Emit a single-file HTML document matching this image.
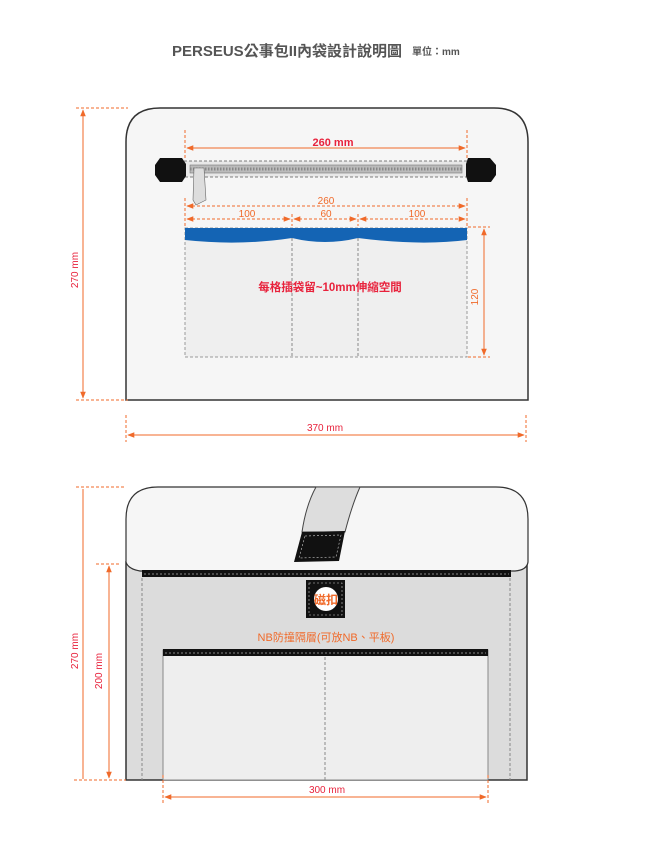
<!DOCTYPE html>
<html><head><meta charset="utf-8"><style>
html,body{margin:0;padding:0;background:#fff;}
svg{display:block;}
text{font-family:"Liberation Sans","Noto Sans CJK TC",sans-serif;}
</style></head><body>
<svg width="650" height="867" viewBox="0 0 650 867" xmlns="http://www.w3.org/2000/svg">
<defs>
<marker id="a" viewBox="0 0 10 10" refX="9" refY="5" markerWidth="7" markerHeight="7" orient="auto-start-reverse"><path d="M0,1 L10,5 L0,9 z" fill="#f06a2a"/></marker>
</defs>
<text x="172" y="56" font-size="15" font-weight="bold" fill="#555">PERSEUS公事包II內袋設計說明圖</text>
<text x="412" y="55" font-size="10" font-weight="bold" fill="#555">單位：mm</text>

<path d="M126,400 L126,142 Q126,108 160,108 L494,108 Q528,108 528,142 L528,400 Z" fill="#f6f6f6" stroke="#333" stroke-width="1.5"/>
<g stroke="#f06a2a" stroke-width="1">
<line x1="76" y1="108" x2="128" y2="108" stroke-dasharray="3,2"/>
<line x1="76" y1="400" x2="128" y2="400" stroke-dasharray="3,2"/>
<line x1="83" y1="110" x2="83" y2="398" marker-start="url(#a)" marker-end="url(#a)"/>
<line x1="126" y1="415" x2="126" y2="442" stroke-dasharray="3,2"/>
<line x1="526" y1="415" x2="526" y2="442" stroke-dasharray="3,2"/>
<line x1="128" y1="435" x2="524" y2="435" marker-start="url(#a)" marker-end="url(#a)"/>
</g>
<text transform="translate(78,270) rotate(-90)" text-anchor="middle" font-size="10" fill="#e8223c">270 mm</text>
<text x="325" y="431" text-anchor="middle" font-size="10" fill="#e8223c">370 mm</text>

<g stroke="#f06a2a" stroke-width="1">
<line x1="185" y1="130" x2="185" y2="160" stroke-dasharray="3,2"/>
<line x1="467" y1="130" x2="467" y2="160" stroke-dasharray="3,2"/>
<line x1="187" y1="148" x2="465" y2="148" marker-start="url(#a)" marker-end="url(#a)"/>
</g>
<text x="333" y="146" text-anchor="middle" font-size="11" font-weight="bold" fill="#e8223c">260 mm</text>
<rect x="184" y="161" width="284" height="16" fill="#e8e8e8" stroke="#555" stroke-width="0.8" stroke-dasharray="3,2"/>
<rect x="190" y="165" width="272" height="8" fill="#bbb" stroke="#777" stroke-width="0.6"/>
<line x1="190" y1="169" x2="462" y2="169" stroke="#888" stroke-width="3" stroke-dasharray="1.5,1.5"/>
<path d="M160,158 L182,158 L186,164 L186,176 L182,182 L160,182 L155,175 L155,165 Z" fill="#111"/>
<path d="M468,158 L490,158 L496,165 L496,175 L491,182 L468,182 L466,176 L466,164 Z" fill="#111"/>
<path d="M194,168 L204,168 L206,200 L196,205 L193,200 Z" fill="#ddd" stroke="#666" stroke-width="0.6"/>
<g stroke="#f06a2a" stroke-width="1">
<line x1="185" y1="198" x2="185" y2="226" stroke-dasharray="3,2"/>
<line x1="467" y1="198" x2="467" y2="226" stroke-dasharray="3,2"/>
<line x1="292" y1="214" x2="292" y2="226" stroke-dasharray="3,2"/>
<line x1="358" y1="214" x2="358" y2="226" stroke-dasharray="3,2"/>
<line x1="187" y1="206" x2="465" y2="206" stroke-dasharray="3,2" marker-start="url(#a)" marker-end="url(#a)"/>
<line x1="187" y1="219" x2="290" y2="219" stroke-dasharray="3,2" marker-start="url(#a)" marker-end="url(#a)"/>
<line x1="294" y1="219" x2="356" y2="219" stroke-dasharray="3,2" marker-start="url(#a)" marker-end="url(#a)"/>
<line x1="360" y1="219" x2="465" y2="219" stroke-dasharray="3,2" marker-start="url(#a)" marker-end="url(#a)"/>
</g>
<text x="326" y="204" text-anchor="middle" font-size="10" fill="#f06a2a">260</text>
<text x="247" y="217" text-anchor="middle" font-size="10" fill="#f06a2a">100</text>
<text x="326" y="217" text-anchor="middle" font-size="10" fill="#f06a2a">60</text>
<text x="417" y="217" text-anchor="middle" font-size="10" fill="#f06a2a">100</text>
<rect x="185" y="228" width="282" height="129" fill="#efefef" stroke="#999" stroke-width="1" stroke-dasharray="3,2"/>
<path d="M185,228 L467,228 L467,240 Q420,246 358,238 Q325,246 292,238 Q240,246 185,240 Z" fill="#1464b4"/>
<line x1="292" y1="238" x2="292" y2="357" stroke="#888" stroke-dasharray="3,2"/>
<line x1="358" y1="238" x2="358" y2="357" stroke="#888" stroke-dasharray="3,2"/>
<text x="330" y="291" text-anchor="middle" font-size="11.5" font-weight="bold" fill="#e8223c">每格插袋留~10mm伸縮空間</text>
<g stroke="#f06a2a" stroke-width="1">
<line x1="468" y1="227" x2="490" y2="227" stroke-dasharray="3,2"/>
<line x1="468" y1="357" x2="490" y2="357" stroke-dasharray="3,2"/>
<line x1="484" y1="229" x2="484" y2="355" marker-start="url(#a)" marker-end="url(#a)"/>
</g>
<text transform="translate(478,297) rotate(-90)" text-anchor="middle" font-size="10" fill="#f06a2a">120</text>

<rect x="126" y="562" width="401" height="218" fill="#dcdcdc" stroke="#333" stroke-width="1.5"/>
<path d="M126,562 L126,519 Q126,487 158,487 L496,487 Q528,487 528,519 L528,562 Q527,570 515,571 L140,571 Q128,569 126,562 Z" fill="#f6f6f6" stroke="#333" stroke-width="1.2"/>
<rect x="142" y="570" width="369" height="7" fill="#111"/>
<line x1="144" y1="574" x2="509" y2="574" stroke="#fff" stroke-width="0.5" stroke-dasharray="2,2"/>
<line x1="142" y1="578" x2="142" y2="780" stroke="#888" stroke-dasharray="3,2"/>
<line x1="510" y1="578" x2="510" y2="780" stroke="#888" stroke-dasharray="3,2"/>
<path d="M316,487 L360,487 Q352,505 345,532 L302,532 Q306,505 316,487 Z" fill="#ddd" stroke="#444" stroke-width="1"/>
<path d="M302,532 L345,531 L339,561 L294,562 Z" fill="#111"/>
<path d="M305,536 L341,535 L336,557 L299,558 Z" fill="none" stroke="#ccc" stroke-width="0.6" stroke-dasharray="2,2"/>
<rect x="306" y="580" width="39" height="38" fill="#111"/>
<rect x="309" y="583" width="33" height="32" fill="none" stroke="#ccc" stroke-width="0.6" stroke-dasharray="2,2"/>
<circle cx="326" cy="599" r="12" fill="#fff"/>
<text x="326" y="604" text-anchor="middle" font-size="12" font-weight="bold" fill="#f06a2a">磁扣</text>
<text x="326" y="641" text-anchor="middle" font-size="11" fill="#f06a2a">NB防撞隔層(可放NB、平板)</text>
<rect x="163" y="650" width="325" height="130" fill="#eeeeee" stroke="#888" stroke-width="1"/>
<rect x="163" y="649" width="325" height="7" fill="#111"/>
<line x1="165" y1="653" x2="486" y2="653" stroke="#fff" stroke-width="0.5" stroke-dasharray="2,2"/>
<line x1="325" y1="657" x2="325" y2="780" stroke="#888" stroke-dasharray="3,2"/>
<g stroke="#f06a2a" stroke-width="1">
<line x1="76" y1="487" x2="126" y2="487" stroke-dasharray="3,2"/>
<line x1="74" y1="780" x2="126" y2="780" stroke-dasharray="3,2"/>
<line x1="96" y1="564" x2="120" y2="564" stroke-dasharray="3,2"/>
<line x1="83" y1="489" x2="83" y2="779"/>
<line x1="109" y1="566" x2="109" y2="778" marker-start="url(#a)" marker-end="url(#a)"/>
<line x1="163" y1="775" x2="163" y2="803" stroke-dasharray="3,2"/>
<line x1="488" y1="775" x2="488" y2="803" stroke-dasharray="3,2"/>
<line x1="165" y1="797" x2="486" y2="797" marker-start="url(#a)" marker-end="url(#a)"/>
</g>
<text transform="translate(78,651) rotate(-90)" text-anchor="middle" font-size="10" fill="#e8223c">270 mm</text>
<text transform="translate(102,671) rotate(-90)" text-anchor="middle" font-size="10" fill="#e8223c">200 mm</text>
<text x="327" y="793" text-anchor="middle" font-size="10" fill="#e8223c">300 mm</text>
</svg>
</body></html>
